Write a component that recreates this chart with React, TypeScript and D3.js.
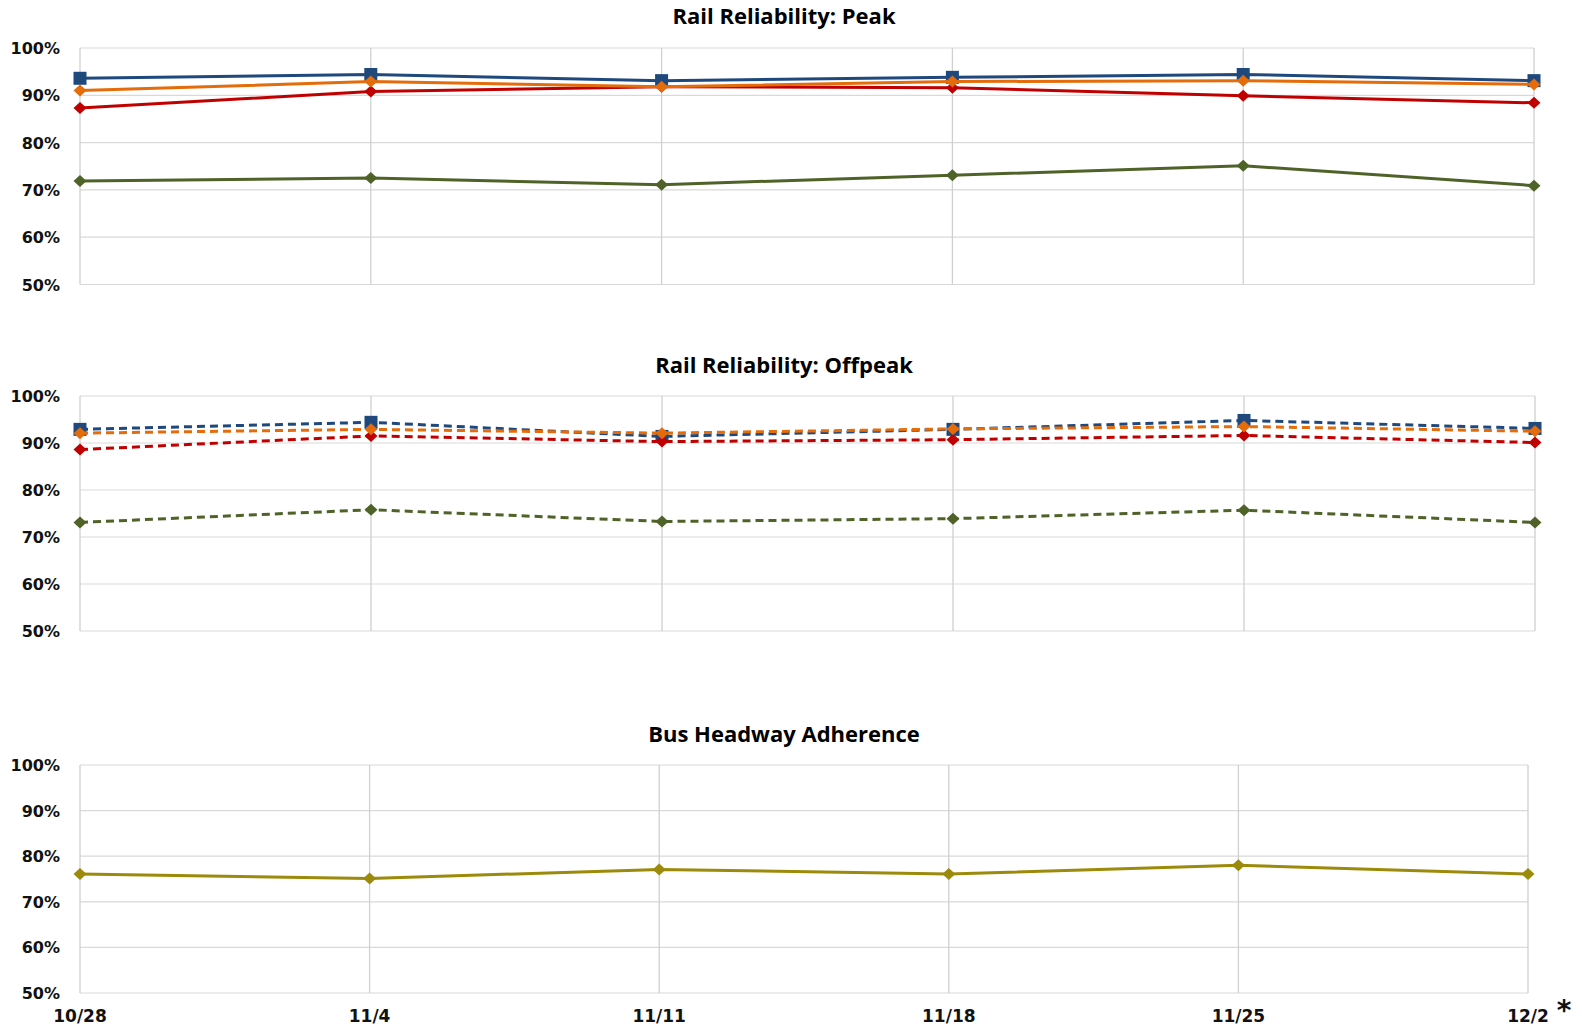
import React from 'react';
import * as d3 from 'd3';

// week labels on the x axis
const weeks = ['10/28', '11/4', '11/11', '11/18', '11/25', '12/2'];
const yTicks = [0.5, 0.6, 0.7, 0.8, 0.9, 1.0];

// Rail peak
const peakBlue = [0.936, 0.944, 0.931, 0.938, 0.944, 0.931];
const peakOrange = [0.910, 0.929, 0.918, 0.929, 0.931, 0.923];
const peakRed = [0.873, 0.908, 0.918, 0.916, 0.899, 0.884];
const peakGreen = [0.719, 0.725, 0.711, 0.731, 0.751, 0.709];

// Rail offpeak
const offBlue = [0.929, 0.944, 0.914, 0.929, 0.948, 0.931];
const offOrange = [0.921, 0.929, 0.921, 0.930, 0.935, 0.925];
const offRed = [0.886, 0.915, 0.903, 0.907, 0.916, 0.901];
const offGreen = [0.731, 0.758, 0.733, 0.739, 0.757, 0.731];

// Bus
const busGold = [0.761, 0.751, 0.771, 0.761, 0.780, 0.761];

const BLUE = '#1F497D';
const ORANGE = '#E46C0A';
const RED = '#C00000';
const GREEN = '#4F6228';
const GOLD = '#9C8A0A';

const tickFont = '"DejaVu Sans", Verdana, sans-serif';
const titleFont = '"Open Sans", "Liberation Sans", sans-serif';

type Series = { values: number[]; color: string; marker: 'square' | 'diamond'; dashed: boolean };

const diamond = 'M0,-6 L6.5,0 L0,6 L-6.5,0 Z';

const Panel = ({ title, top, bottom, left, right, titleX, titleY, series, showX }:
  { title: string; top: number; bottom: number; left: number; right: number; titleX: number; titleY: number; series: Series[]; showX: boolean }) => {
  const x = d3.scalePoint<string>().domain(weeks).range([left, right]);
  const y = d3.scaleLinear().domain([0.5, 1]).range([bottom, top]);
  const fmt = d3.format('.0%');
  const line = (vals: number[]) =>
    d3.line<number>().x((_, i) => x(weeks[i]) as number).y(d => y(d))(vals) || '';

  return (
    <g>
      <text x={titleX} y={titleY} textAnchor="middle" fontFamily={titleFont}
        fontWeight="bold" fontSize={22} fill="#000">{title}</text>
      {yTicks.map(t => (
        <g key={t}>
          <line x1={left} x2={right} y1={y(t)} y2={y(t)} stroke="#d9d9d9" strokeWidth={1.2} />
          <text x={left - 20} y={y(t) + 6} textAnchor="end" fontFamily={tickFont}
            fontWeight="bold" fontSize={16} fill="#111">{fmt(t)}</text>
        </g>
      ))}
      {weeks.map(w => (
        <line key={w} x1={x(w)} x2={x(w)} y1={top} y2={bottom} stroke="#d0d0d0" strokeWidth={1.3} />
      ))}
      {showX && weeks.map(w => (
        <text key={w} x={x(w)} y={bottom + 29} textAnchor="middle" fontFamily={tickFont}
          fontWeight="bold" fontSize={17} fill="#111">{w}</text>
      ))}
      {series.map((s, si) => (
        <g key={si}>
          <path d={line(s.values)} fill="none" stroke={s.color} strokeWidth={3}
            strokeDasharray={s.dashed ? '8 5' : undefined} />
          {s.values.map((v, i) => {
            const cx = x(weeks[i]) as number;
            const cy = y(v);
            return s.marker === 'square'
              ? <rect key={i} x={cx - 6.5} y={cy - 6.5} width={13} height={13} fill={s.color} />
              : <path key={i} d={diamond} transform={`translate(${cx},${cy})`} fill={s.color} />;
          })}
        </g>
      ))}
    </g>
  );
};

export default function App() {
  const peak: Series[] = [
    { values: peakBlue, color: BLUE, marker: 'square', dashed: false },
    { values: peakRed, color: RED, marker: 'diamond', dashed: false },
    { values: peakGreen, color: GREEN, marker: 'diamond', dashed: false },
    { values: peakOrange, color: ORANGE, marker: 'diamond', dashed: false },
  ];
  const off: Series[] = [
    { values: offBlue, color: BLUE, marker: 'square', dashed: true },
    { values: offRed, color: RED, marker: 'diamond', dashed: true },
    { values: offGreen, color: GREEN, marker: 'diamond', dashed: true },
    { values: offOrange, color: ORANGE, marker: 'diamond', dashed: true },
  ];
  const bus: Series[] = [
    { values: busGold, color: GOLD, marker: 'diamond', dashed: false },
  ];
  return (
    <svg width={1582} height={1026} style={{ position: 'absolute', left: 0, top: 0, background: '#fff' }}>
      <rect width={1582} height={1026} fill="#fff" />
      <Panel title="Rail Reliability: Peak" top={48} bottom={284.5} left={80} right={1534} titleX={784} titleY={24} series={peak} showX={false} />
      <Panel title="Rail Reliability: Offpeak" top={396} bottom={631} left={80} right={1535} titleX={784} titleY={373} series={off} showX={false} />
      <Panel title="Bus Headway Adherence" top={765} bottom={993} left={80} right={1528} titleX={784} titleY={742} series={bus} showX={true} />
      <text x={1564} y={1020} textAnchor="middle" fontFamily={tickFont} fontWeight="bold" fontSize={28} fill="#111">*</text>
    </svg>
  );
}
